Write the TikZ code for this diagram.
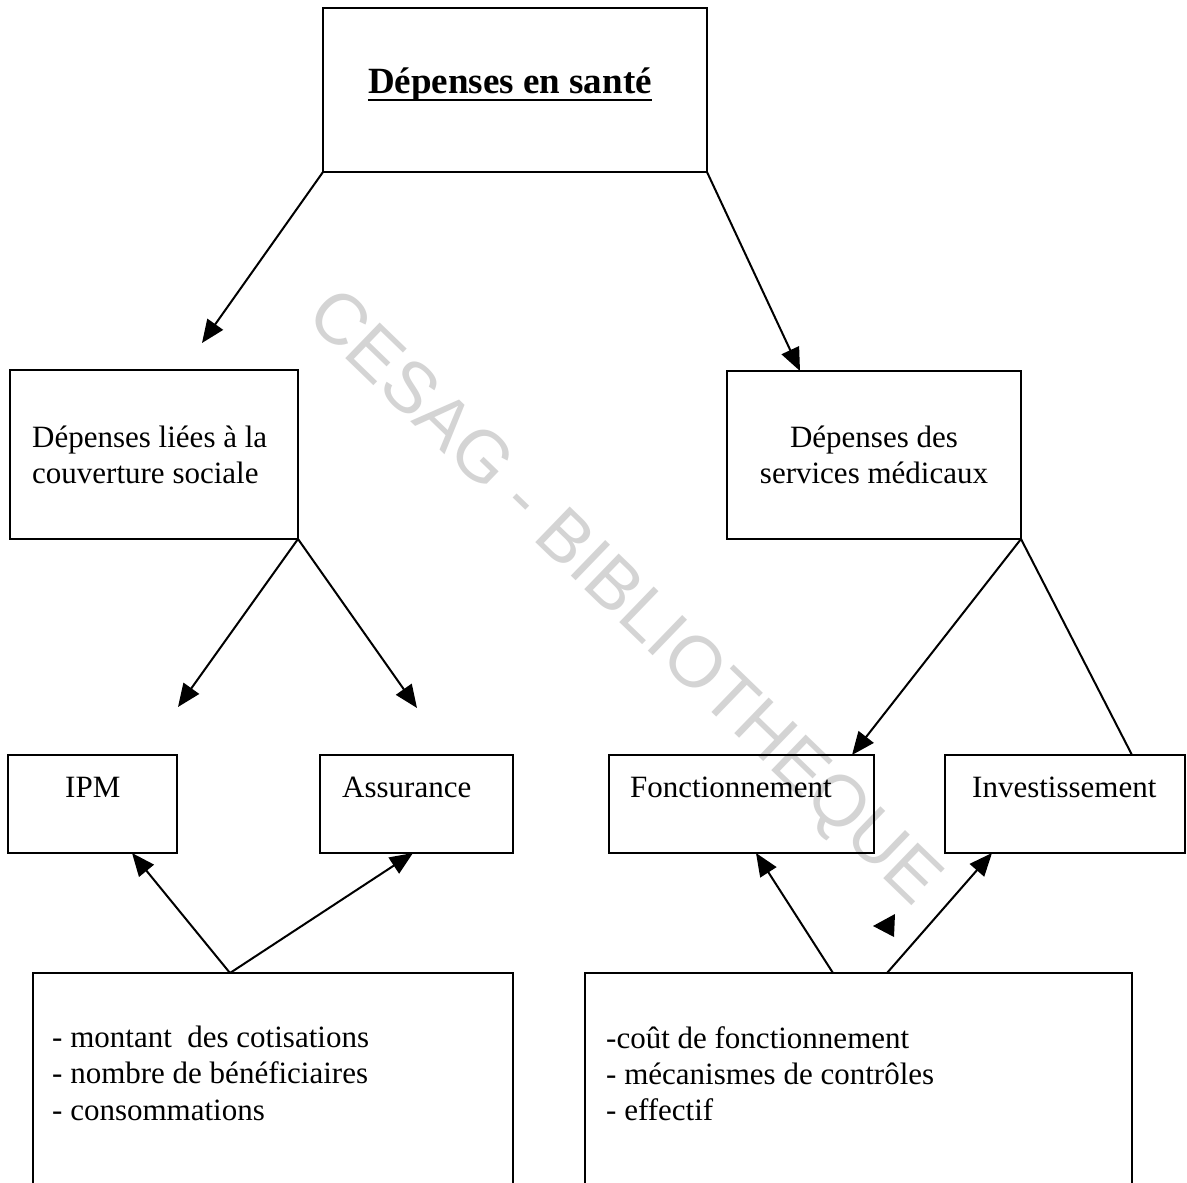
\documentclass[tikz,border=0pt]{standalone}
\usepackage{fontspec}
\setmainfont{Liberation Serif}
\newfontfamily\wmfont{Liberation Sans}
\usetikzlibrary{arrows.meta}
\begin{document}
\begin{tikzpicture}[x=1pt,y=-1pt,
  box/.style={draw, line width=2pt, rectangle, inner sep=0pt, outer sep=0pt},
  txt/.style={anchor=base west, inner sep=0pt, font=\fontsize{31}{36}\selectfont},
  conn/.style={line width=2pt},
  arr/.style={conn, -{Triangle[length=23pt,width=19pt]}},
  wmark/.style={rotate=-44, text=black!17, inner sep=0pt, font=\wmfont\fontsize{72}{80}\selectfont}
]
\useasboundingbox (0,0) rectangle (1187,1183);
\clip (0,0) rectangle (1187,1183);
\fill[white] (0,0) rectangle (1187,1183);

% watermark
\node[wmark] (wm) at (622,600) {CESAG - BIBLIOTHEQUE};

% boxes
\node[box, minimum width=384pt, minimum height=164pt] (top) at (515,90) {};
\node[box, minimum width=288pt, minimum height=169pt] (cs) at (154,454.5) {};
\node[box, minimum width=294pt, minimum height=168pt] (sm) at (874,455) {};
\node[box, minimum width=169pt, minimum height=98pt] (ipm) at (92.5,804) {};
\node[box, minimum width=193pt, minimum height=98pt] (ass) at (416.5,804) {};
\node[box, minimum width=265pt, minimum height=98pt] (fonc) at (741.5,804) {};
\node[box, minimum width=240pt, minimum height=98pt] (inv) at (1065,804) {};
\node[box, minimum width=480pt, minimum height=240pt] (bl) at (273,1093) {};
\node[box, minimum width=547pt, minimum height=240pt] (br) at (858.5,1093) {};

% texts
\node[anchor=base, inner sep=0pt, font=\bfseries\fontsize{37}{40}\selectfont] (title) at (510,93) {Dépenses en santé};
\draw[line width=2.6pt] ([yshift=-7pt]title.base west) -- ([yshift=-7pt]title.base east);

\node[txt] (cs1) at (32,447) {Dépenses liées à la};
\node[txt] (cs2) at (32,483) {couverture sociale};
\node[txt, anchor=base] (sm1) at (874,447) {Dépenses des};
\node[txt, anchor=base] (sm2) at (874,483) {services médicaux};

\node[txt] (ipmt) at (65,797) {IPM};
\node[txt] (asst) at (342,797) {Assurance};
\node[txt] (fonct) at (630,797) {Fonctionnement};
\node[txt] (invt) at (972,797) {Investissement};

\node[txt] (bl1) at (52,1047) {- montant~ des cotisations};
\node[txt] (bl2) at (52,1083) {- nombre de bénéficiaires};
\node[txt] (bl3) at (52,1120) {- consommations};

\node[txt] (br1) at (606,1048) {-coût de fonctionnement};
\node[txt] (br2) at (606,1084) {- mécanismes de contrôles};
\node[txt] (br3) at (606,1120) {- effectif};

% connectors
\coordinate (a1) at (202,343);
\coordinate (a2) at (800,371);
\coordinate (a3) at (178,707);
\coordinate (a4) at (417,708);
\coordinate (a5) at (852,755);
\coordinate (a6) at (1132,755);
\coordinate (b1) at (230,973);
\coordinate (b2) at (833,973);
\coordinate (b3) at (887,973);
\coordinate (t1) at (132,853);
\coordinate (t2) at (413,853);
\coordinate (t3) at (756,853);
\coordinate (t4) at (992,853);

\draw[arr] (top.south west) -- (a1);
\draw[arr] (top.south east) -- (a2);
\draw[arr] (cs.south east) -- (a3);
\draw[arr] (cs.south east) -- (a4);
\draw[arr] (sm.south east) -- (a5);
\draw[conn] (sm.south east) -- (a6);
\draw[arr] (b1) -- (t1);
\draw[arr] (b1) -- (t2);
\draw[arr] (b2) -- (t3);
\draw[arr] (b3) -- (t4);

% stray arrowhead
\fill (873,926) -- (895,914) -- (894,937) -- cycle;
\end{tikzpicture}
\end{document}
